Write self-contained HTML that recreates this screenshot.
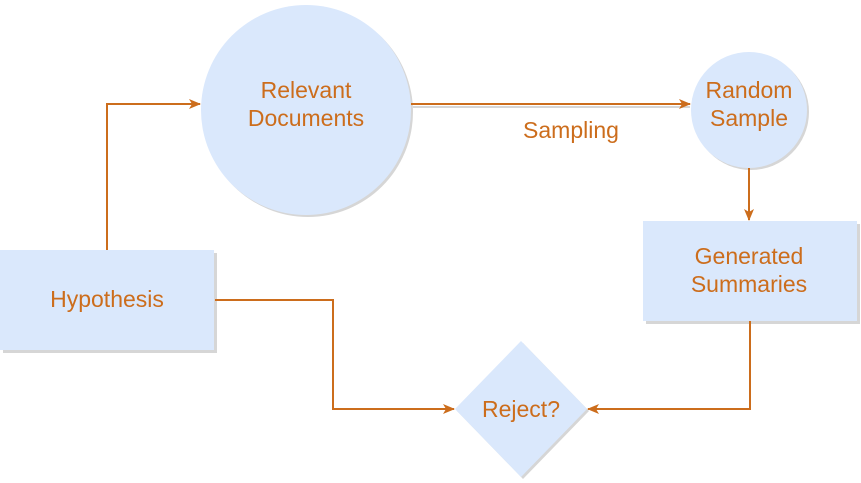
<!DOCTYPE html>
<html><head><meta charset="utf-8"><style>
html,body{margin:0;padding:0;background:#fff;width:861px;height:483px;overflow:hidden}
text{font-family:"Liberation Sans",Helvetica,Arial,sans-serif;font-size:23px;fill:#cc6d1c}
</style></head><body>
<svg width="861" height="483" viewBox="0 0 861 483" xmlns="http://www.w3.org/2000/svg">
<defs>
<marker id="a" markerWidth="12" markerHeight="10" refX="11" refY="5" orient="auto" markerUnits="userSpaceOnUse">
<path d="M0,0 L12,5 L0,10 L3,5 z" fill="#cc6d1c"/></marker>
</defs>
<g fill="#d6d6d6">
<circle cx="308" cy="112" r="105"/>
<circle cx="751" cy="112" r="58"/>
<rect x="3" y="253" width="214" height="100"/>
<rect x="646" y="224" width="214" height="100"/>
<polygon points="523,343 589,411 523,479 457,411"/>
</g>
<g fill="#dae8fc">
<circle cx="306" cy="110" r="105"/>
<circle cx="749" cy="110" r="58"/>
<rect x="0" y="250" width="214" height="100"/>
<rect x="643" y="221" width="214" height="100"/>
<polygon points="521,341 587,409 521,477 455,409"/>
</g>
<g fill="none" stroke="#d6d6d6" stroke-width="2">
<path d="M413,107 H690"/>
</g>
<g fill="none" stroke="#cc6d1c" stroke-width="2">
<path d="M107,250 V104 H200" marker-end="url(#a)"/>
<path d="M411,104 H690" marker-end="url(#a)"/>
<path d="M749,168 V220" marker-end="url(#a)"/>
<path d="M750,321 V409 H588" marker-end="url(#a)"/>
<path d="M215,300 H333 V409 H454" marker-end="url(#a)"/>
</g>
<g text-anchor="middle">
<text x="306" y="98">Relevant</text>
<text x="306" y="126">Documents</text>
<text x="749" y="98">Random</text>
<text x="749" y="126">Sample</text>
<text x="571" y="138">Sampling</text>
<text x="107" y="307">Hypothesis</text>
<text x="749" y="264">Generated</text>
<text x="749" y="292">Summaries</text>
<text x="521" y="417">Reject?</text>
</g>
</svg>
</body></html>
